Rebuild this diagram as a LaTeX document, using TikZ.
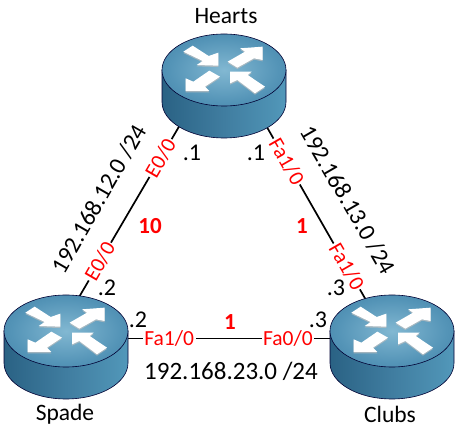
\documentclass[tikz,border=0pt]{standalone}
\usepackage{fontspec}
\setmainfont{Carlito}
\usetikzlibrary{shapes.geometric}
\definecolor{linkred}{RGB}{255,0,0}
\definecolor{topA}{RGB}{130,184,210}
\definecolor{topB}{RGB}{84,148,183}
\definecolor{topC}{RGB}{44,108,146}
\definecolor{bodyA}{RGB}{36,90,125}
\definecolor{bodyB}{RGB}{42,98,132}
\definecolor{bodyC}{RGB}{64,125,160}
\definecolor{bodyD}{RGB}{78,146,180}
\definecolor{bodyE}{RGB}{92,166,201}
\definecolor{bodyF}{RGB}{60,128,160}
\definecolor{bodyG}{RGB}{46,108,142}
\pgfdeclareradialshading{routertop}{\pgfpoint{0bp}{0bp}}{color(0bp)=(topA); color(22bp)=(topB); color(50bp)=(topC); color(100bp)=(topC)}
\pgfdeclarehorizontalshading{routerbody}{100bp}{color(0bp)=(bodyA); color(25bp)=(bodyB); color(50bp)=(bodyC); color(70bp)=(bodyD); color(86bp)=(bodyE); color(87bp)=(bodyF); color(100bp)=(bodyG)}
\tikzset{
	routerbox/.style={ellipse, inner sep=0pt, minimum width=124pt, minimum height=104pt},
	routername/.style={font=\fontsize{23.5}{28}\selectfont},
	netlabel/.style={font=\fontsize{25}{30}\selectfont, inner sep=0pt},
	slantlabel/.style={font=\fontsize{24}{29}\selectfont, inner sep=0pt},
	hostlabel/.style={font=\fontsize{24}{28}\selectfont, inner sep=0pt},
	costlabel/.style={font=\fontsize{23}{28}\selectfont\bfseries, text=linkred, inner sep=0pt},
	portlabel/.style={font=\fontsize{21.5}{26}\selectfont, text=linkred, fill=white, inner sep=1.5pt},
	link/.style={draw=black, line width=1.7pt},
	routerarrow/.style={fill=white, draw=none},
	router/.pic={
		\path[shading=routerbody, draw=black!80!blue, line width=0.6pt] (-62,16) -- (-62,-16) arc[start angle=180, end angle=360, x radius=62, y radius=36] -- (62,16) -- cycle;
		\path[shading=routertop, draw=black!80!blue, line width=0.6pt] (0,16) ellipse[x radius=62, y radius=36];
		\begin{scope}[shift={(0,16)}, xscale=1/3, yscale=-1/3, shift={(-222,-120)}]
			\fill[black!25, opacity=0.7] (100,69) -- (128,51) -- (176,82) -- (205,72) -- (205,111) -- (140,109) -- (158,97) -- cycle;
			\fill[black!25, opacity=0.7] (233,99) -- (285,69) -- (270,59) -- (338,54) -- (338,94) -- (312,89) -- (262,117) -- cycle;
			\fill[black!25, opacity=0.7] (107,187) -- (107,149) -- (130,159) -- (178,126) -- (210,144) -- (165,174) -- (178,187) -- cycle;
			\fill[black!25, opacity=0.7] (240,129) -- (305,129) -- (293,139) -- (345,174) -- (315,194) -- (262,154) -- (240,164) -- cycle;
			\path[routerarrow] (100,65) -- (128,47) -- (176,78) -- (205,68) -- (205,107) -- (140,105) -- (158,93) -- cycle;
			\path[routerarrow] (233,95) -- (285,65) -- (270,55) -- (338,50) -- (338,90) -- (312,85) -- (262,113) -- cycle;
			\path[routerarrow] (107,183) -- (107,145) -- (130,155) -- (178,122) -- (210,140) -- (165,170) -- (178,183) -- cycle;
			\path[routerarrow] (240,125) -- (305,125) -- (293,135) -- (345,170) -- (315,190) -- (262,150) -- (240,160) -- cycle;
		\end{scope}
	}
}
\begin{document}
\begin{tikzpicture}[x=1pt, y=1pt]
	\useasboundingbox (0,0) rectangle (456,428);
	% routers
	\node[routerbox] (hearts) at (224,342) {};
	\node[routerbox] (spade) at (66,81) {};
	\node[routerbox] (clubs) at (392,81) {};
	% links
	\draw[link] (hearts.-139) -- (spade.75)
		node[portlabel, pos=0.2, rotate=60] (e00top) {E0/0}
		node[portlabel, pos=0.8, rotate=60] (e00bottom) {E0/0};
	\draw[link] (hearts.-43) -- (clubs.119)
		node[portlabel, pos=0.21, rotate=-60] (fa10top) {Fa1/0}
		node[portlabel, pos=0.81, rotate=-60] (fa10bottom) {Fa1/0};
	\draw[link] (spade.8) -- (clubs.172)
		node[portlabel, pos=0.206] (fa10spade) {Fa1/0}
		node[portlabel, pos=0.79] (fa00clubs) {Fa0/0};
	\pic at (hearts) {router};
	\pic at (spade) {router};
	\pic at (clubs) {router};
	% names
	\node[routername] (heartsname) at (226,412) {Hearts};
	\node[routername] (spadename) at (65,14) {Spade};
	\node[routername] (clubsname) at (390,14) {Clubs};
	% networks
	\node[slantlabel, rotate=60] (net12) at (99,229) {192.168.12.0 /24};
	\node[slantlabel, rotate=-60] (net13) at (348,228) {192.168.13.0 /24};
	\node[netlabel] (net23) at (231,57) {192.168.23.0 /24};
	% addresses
	\node[hostlabel] (hostA) at (192,275) {.1};
	\node[hostlabel] (hostB) at (256,275) {.1};
	\node[hostlabel] (hostC) at (107,140) {.2};
	\node[hostlabel] (hostD) at (138,108) {.2};
	\node[hostlabel] (hostE) at (336,140) {.3};
	\node[hostlabel] (hostF) at (318,108) {.3};
	% costs
	\node[costlabel] (cost10) at (150,202) {10};
	\node[costlabel] (cost1a) at (302,202) {1};
	\node[costlabel] (cost1b) at (230,106) {1};
\end{tikzpicture}
\end{document}
